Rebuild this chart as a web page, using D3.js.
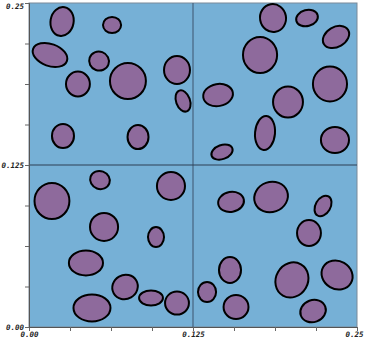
<!DOCTYPE html>
<html>
<head>
<meta charset="utf-8">
<script src="https://cdn.jsdelivr.net/npm/d3@7"></script>
<style>
  body { margin: 0; background: #fff; }
  .tick text { font-family: "DejaVu Sans Mono", monospace; font-style: italic; font-weight: bold; font-size: 7.5px; fill: #222; }
</style>
</head>
<body>
<svg width="366" height="340"></svg>
<script>
// ellipse centres / radii in data units, tilt in degrees
const cx = [0.0252,0.0633,0.0160,0.0534,0.0373,0.0754,0.1128,0.1174,0.0259,0.0831,
            0.1860,0.2119,0.2340,0.1761,0.2294,0.1974,0.1441,0.1799,0.1471,0.2332,
            0.0541,0.1082,0.0175,0.0572,0.0968,0.0434,0.0732,0.0930,0.0480,0.1128,
            0.1540,0.1845,0.2241,0.2134,0.1532,0.1357,0.1578,0.2004,0.2348,0.2165];
const cy = [0.2357,0.2330,0.2099,0.2052,0.1875,0.1898,0.1983,0.1744,0.1474,0.1466,
            0.2384,0.2384,0.2238,0.2099,0.1875,0.1736,0.1790,0.1497,0.1350,0.1443,
            0.1134,0.1088,0.0972,0.0772,0.0694,0.0494,0.0309,0.0224,0.0147,0.0185,
            0.0965,0.1003,0.0934,0.0725,0.0440,0.0270,0.0154,0.0363,0.0401,0.0123];
const rx = [0.0088,0.0069,0.0137,0.0076,0.0091,0.0137,0.0099,0.0053,0.0084,0.0080,
            0.0099,0.0084,0.0107,0.0130,0.0130,0.0114,0.0114,0.0076,0.0084,0.0107,
            0.0076,0.0107,0.0133,0.0107,0.0061,0.0130,0.0099,0.0091,0.0141,0.0091,
            0.0099,0.0130,0.0057,0.0091,0.0084,0.0069,0.0095,0.0122,0.0122,0.0099];
const ry = [0.0112,0.0062,0.0085,0.0073,0.0096,0.0139,0.0108,0.0085,0.0093,0.0093,
            0.0108,0.0062,0.0077,0.0139,0.0135,0.0120,0.0085,0.0131,0.0054,0.0100,
            0.0069,0.0108,0.0139,0.0108,0.0077,0.0096,0.0093,0.0058,0.0104,0.0089,
            0.0077,0.0116,0.0085,0.0100,0.0100,0.0077,0.0093,0.0139,0.0108,0.0085];
const tilt = [10,0,20,20,0,0,0,-20,0,0,
              -10,-15,-30,0,0,0,-10,5,-20,0,
              20,0,0,0,0,0,-30,0,0,0,
              -10,-20,30,0,0,0,0,30,30,-20];
const labelTicks = [0, 0.125, 0.25];
const allTicks = d3.range(0, 0.25001, 0.03125);

const data = cx.map((d, i) => ({x: d, y: cy[i], rx: rx[i], ry: ry[i], a: tilt[i]}));

const svg = d3.select("svg");
const margin = {top: 3, right: 9, bottom: 13, left: 29};
const innerWidth = +svg.attr("width") - margin.left - margin.right;
const innerHeight = +svg.attr("height") - margin.top - margin.bottom;

const xScale = d3.scaleLinear().domain([0, 0.25]).range([0, innerWidth]);
const yScale = d3.scaleLinear().domain([0, 0.25]).range([innerHeight, 0]);

const g = svg.append("g")
  .attr("transform", `translate(${margin.left},${margin.top})`);

g.append("rect")
  .attr("width", innerWidth)
  .attr("height", innerHeight)
  .attr("fill", "#76b0d6")
  .attr("stroke", "#7a8a99")
  .attr("stroke-width", 1);

// crosshair at the midpoint
g.append("line")
  .attr("x1", xScale(0.125)).attr("x2", xScale(0.125))
  .attr("y1", 0).attr("y2", innerHeight)
  .attr("stroke", "#3d556e").attr("stroke-width", 1);
g.append("line")
  .attr("x1", 0).attr("x2", innerWidth)
  .attr("y1", yScale(0.125)).attr("y2", yScale(0.125))
  .attr("stroke", "#2c3e55").attr("stroke-width", 1);

g.selectAll("ellipse").data(data).enter().append("ellipse")
  .attr("cx", d => xScale(d.x))
  .attr("cy", d => yScale(d.y))
  .attr("rx", d => xScale(d.rx) - xScale(0))
  .attr("ry", d => yScale(0) - yScale(d.ry))
  .attr("transform", d => `rotate(${d.a},${xScale(d.x)},${yScale(d.y)})`)
  .attr("fill", "#8e6a9c")
  .attr("stroke", "#000")
  .attr("stroke-width", 2);

const fmt = d => d === 0.125 ? "0.125" : d.toFixed(2);
const label = d => labelTicks.includes(d) ? fmt(d) : "";

const xAxis = d3.axisBottom(xScale).tickValues(allTicks).tickFormat(label).tickSizeOuter(0).tickSize(4);
const yAxis = d3.axisLeft(yScale).tickValues(allTicks).tickFormat(label).tickSizeOuter(0).tickSize(4);

const xg = g.append("g").attr("transform", `translate(0,${innerHeight})`).call(xAxis);
const yg = g.append("g").call(yAxis);
[xg, yg].forEach(a => {
  a.select(".domain").attr("stroke", "#555");
  a.selectAll(".tick line").attr("stroke", "#666");
  // drop the empty labels of the minor ticks
  a.selectAll(".tick text").filter(d => !labelTicks.includes(d)).remove();
});
xg.selectAll(".tick text").attr("y", 5).attr("dy", "0.7em")
  .attr("dx", d => d === 0.25 ? -3 : 0);
yg.selectAll(".tick text").attr("x", -5)
  .attr("dy", d => d === 0.25 ? "0.7em" : "0.32em");
</script>
</body>
</html>
